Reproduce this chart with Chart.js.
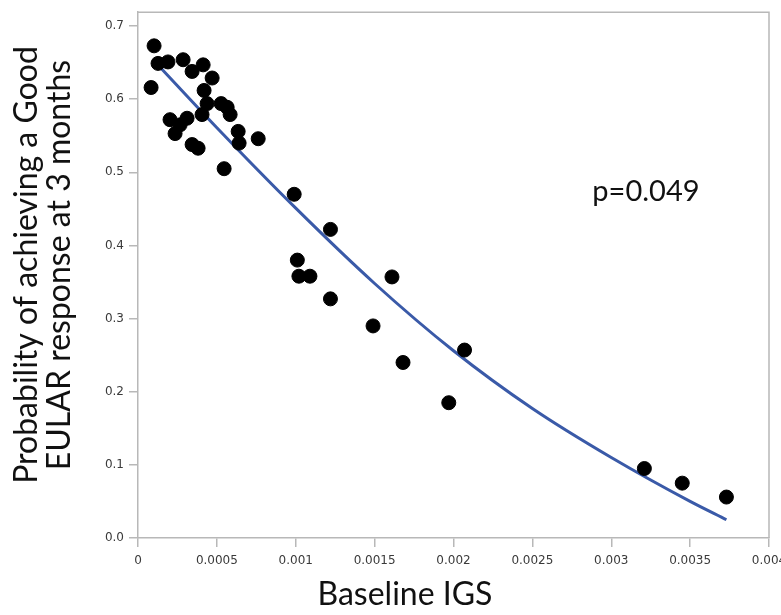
<!DOCTYPE html>
<html>
<head>
<meta charset="utf-8">
<script src="https://cdn.jsdelivr.net/npm/chart.js@4.4.1/dist/chart.umd.min.js"></script>
<style>
  html, body { margin: 0; padding: 0; background: #fff; }
  #wrap { width: 781px; height: 615px; }
</style>
</head>
<body>
<div id="wrap"><canvas id="igsChart" width="781" height="615"></canvas></div>
<script>
// observed patients: baseline IGS vs probability
const igsX = [
  0.000102, 0.000083, 0.000127, 0.00019, 0.000286, 0.000343, 0.000413, 0.00047,
  0.000419, 0.000438, 0.000527, 0.000565, 0.000584, 0.000406, 0.000203, 0.000311,
  0.000267, 0.000235, 0.000343, 0.000381, 0.000635, 0.000641, 0.000762, 0.000546,
  0.00099, 0.00122, 0.00101, 0.00102, 0.00109, 0.00122, 0.00161, 0.00149,
  0.00207, 0.00168, 0.00197, 0.00321, 0.00345, 0.00373
];
const probY = [
  0.673, 0.616, 0.649, 0.651, 0.654, 0.638, 0.647, 0.629,
  0.612, 0.594, 0.594, 0.589, 0.579, 0.579, 0.572, 0.574,
  0.565, 0.553, 0.538, 0.533, 0.556, 0.540, 0.546, 0.505,
  0.470, 0.422, 0.380, 0.358, 0.358, 0.327, 0.357, 0.290,
  0.257, 0.240, 0.185, 0.095, 0.075, 0.056
];

// fitted curve
const fitX = [0.0001, 0.0005, 0.001, 0.0015, 0.002, 0.0025, 0.003, 0.0035, 0.00373];
const fitY = [0.653, 0.561, 0.451, 0.348, 0.256, 0.177, 0.110, 0.050, 0.025];

const xTicks = [0, 0.0005, 0.001, 0.0015, 0.002, 0.0025, 0.003, 0.0035, 0.004];
const yTicks = [0, 0.1, 0.2, 0.3, 0.4, 0.5, 0.6, 0.7];

const xTitle = "Baseline IGS";
const yTitle = ["Probability of achieving a Good", "EULAR response at 3 months"];
const pLabel = "p=0.049";
const pLabelAt = { x: 0.00288, y: 0.474 };

const axisGray = "#b8b8b8";
const titleFont = "32px Lato";

const framePlugin = {
  id: "frame",
  afterDraw(chart) {
    const { ctx, chartArea: a, scales } = chart;
    ctx.save();
    ctx.strokeStyle = axisGray;
    ctx.lineWidth = 1.5;
    ctx.beginPath();
    ctx.moveTo(a.left, a.top);
    ctx.lineTo(a.right, a.top);
    ctx.lineTo(a.right, a.bottom);
    ctx.stroke();

    ctx.fillStyle = "#111";
    ctx.textBaseline = "middle";
    ctx.font = "29px Lato";
    ctx.fillText(pLabel, scales.x.getPixelForValue(pLabelAt.x), scales.y.getPixelForValue(pLabelAt.y));

    // axis titles
    ctx.font = titleFont;
    ctx.textAlign = "center";
    ctx.fillText(xTitle, 405, 595);

    ctx.translate(0, 265);
    ctx.rotate(-Math.PI / 2);
    ctx.fillText(yTitle[0], 0, 27);
    ctx.fillText(yTitle[1], 0, 60);
    ctx.restore();
  },
};

new Chart(document.getElementById("igsChart"), {
  type: "scatter",
  data: {
    datasets: [
      {
        label: "fit",
        type: "line",
        data: fitX.map((x, i) => ({ x, y: fitY[i] })),
        borderColor: "#3a5aa8",
        borderWidth: 3,
        pointRadius: 0,
        cubicInterpolationMode: "monotone",
        fill: false,
        order: 2,
      },
      {
        label: "patients",
        data: igsX.map((x, i) => ({ x, y: probY[i] })),
        backgroundColor: "#000",
        borderColor: "#000",
        pointRadius: 7,
        order: 1,
      },
    ],
  },
  plugins: [framePlugin],
  options: {
    responsive: false,
    animation: false,
    layout: { padding: { top: 11, right: 12, left: 0, bottom: 0 } },
    plugins: {
      legend: { display: false },
      tooltip: { enabled: false },
    },
    scales: {
      x: {
        type: "linear",
        min: 0,
        max: 0.004,
        afterBuildTicks: (s) => { s.ticks = xTicks.map((v) => ({ value: v })); },
        afterFit: (s) => {
          s.height = 77;
          s.paddingLeft = 0;
          s.paddingRight = 0;
        },
        ticks: {
          callback: (v) => String(v),
          color: "#3a3a3a",
          font: { family: "DejaVu Sans", size: 12 },
          padding: 7,
          maxRotation: 0,
        },
        grid: { drawOnChartArea: false, tickLength: 9, color: axisGray, lineWidth: 1.5 },
        border: { color: axisGray, width: 1.5 },
      },
      y: {
        min: 0,
        max: 0.719,
        afterBuildTicks: (s) => { s.ticks = yTicks.map((v) => ({ value: v })); },
        afterFit: (s) => { s.width = 138; },
        ticks: {
          callback: (v) => v.toFixed(1),
          color: "#3a3a3a",
          font: { family: "DejaVu Sans", size: 12 },
          padding: 5,
        },
        grid: { drawOnChartArea: false, tickLength: 9, color: axisGray, lineWidth: 1.5 },
        border: { color: axisGray, width: 1.5 },
      },
    },
  },
});
</script>
</body>
</html>
